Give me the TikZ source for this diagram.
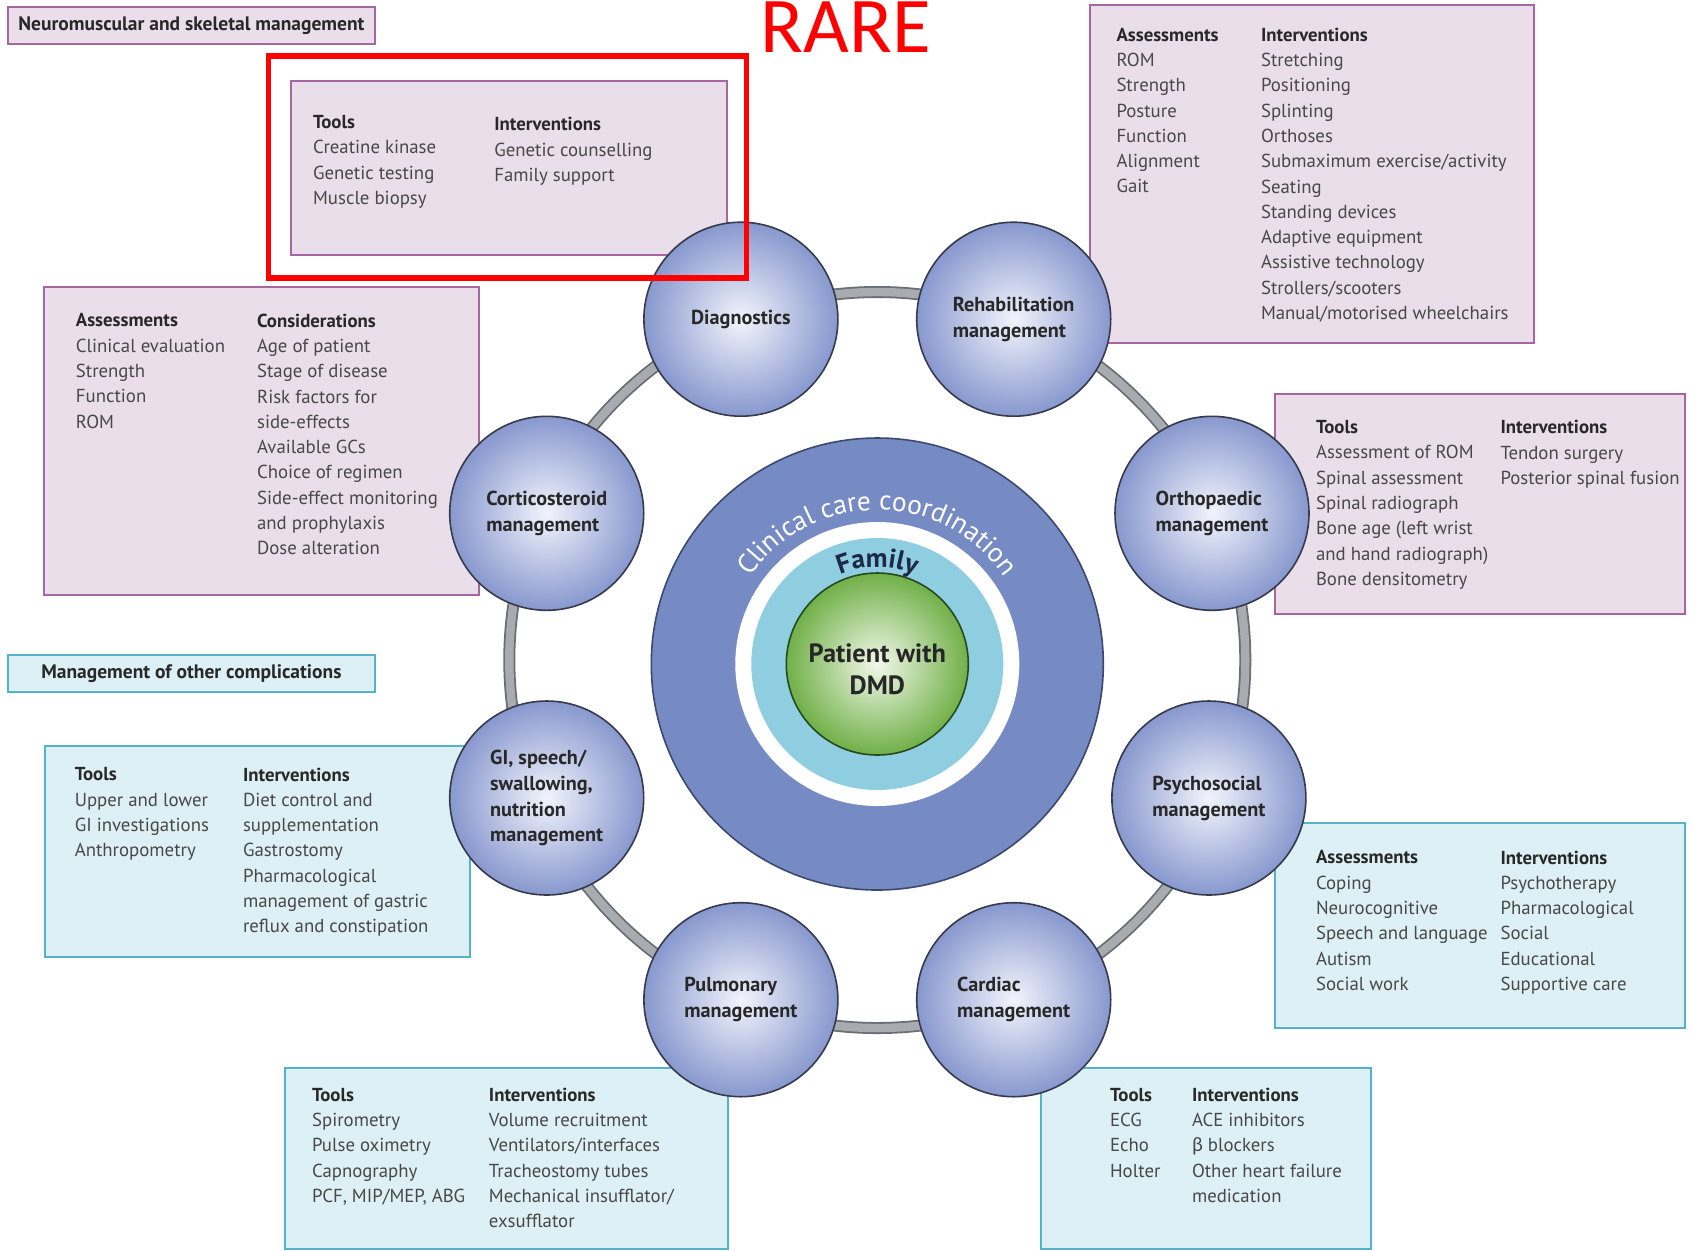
\documentclass[tikz,border=0pt]{standalone}
\usepackage{fontspec}
\setmainfont{PT Sans}
\newfontfamily\rarefont{Carlito}
\newfontfamily\greekfont{Carlito}
\usetikzlibrary{fit,decorations.text}
\definecolor{pinkfill}{RGB}{234,222,234}
\definecolor{pinkline}{RGB}{168,102,160}
\definecolor{cyanfill}{RGB}{221,240,246}
\definecolor{cyanline}{RGB}{86,178,200}
\definecolor{satin}{RGB}{242,244,252}
\definecolor{satout}{RGB}{136,152,206}
\definecolor{satline}{RGB}{55,58,75}
\definecolor{navy}{RGB}{118,139,196}
\definecolor{navyline}{RGB}{60,72,110}
\definecolor{famblue}{RGB}{142,206,224}
\definecolor{grin}{RGB}{242,248,234}
\definecolor{grout}{RGB}{112,176,72}
\definecolor{grline}{RGB}{40,72,30}
\definecolor{bodytext}{RGB}{72,72,72}
\definecolor{headtext}{RGB}{40,40,40}
\definecolor{ringdark}{RGB}{105,110,116}
\definecolor{ringlight}{RGB}{168,172,177}
\definecolor{famtext}{RGB}{28,40,70}
\newcommand{\colhead}[1]{{\bfseries\color{headtext}#1}}
\begin{document}
\begin{tikzpicture}[x=0.5pt,y=-0.5pt,
  pinkbox/.style={draw=pinkline, fill=pinkfill, line width=1pt, inner sep=0},
  cyanbox/.style={draw=cyanline, fill=cyanfill, line width=1pt, inner sep=0},
  col/.style={anchor=north west, inner sep=0, align=left, text=bodytext, font=\fontsize{9.4}{12.65}\selectfont},
  sat/.style={circle, draw=satline, line width=0.8pt, shading=radial, inner color=satin, outer color=satout, minimum size=97pt, inner sep=0, align=left, text=headtext, font=\bfseries\fontsize{10.1}{12.95}\selectfont},
  ttl/.style={text=headtext, font=\bfseries\fontsize{9.75}{11}\selectfont, inner sep=0},
]
\fill[white] (0,0) rectangle (1691,1250);
\useasboundingbox (0,0) rectangle (1691,1250);

\coordinate (ctr) at (877.3,664);
\coordinate (rc) at (877.3,660);

% ring joining the eight management areas
\draw[ringdark, line width=6pt] (rc) circle[radius=368];
\draw[ringlight, line width=4.2pt] (rc) circle[radius=368];

% central circles
\node[circle, fill=navy, draw=navyline, line width=0.8pt, minimum size=226pt, inner sep=0] (coord) at (ctr) {};
\node[circle, fill=white, minimum size=142pt, inner sep=0] (gap) at (ctr) {};
\node[circle, fill=famblue, minimum size=126pt, inner sep=0] (family) at (ctr) {};
\node[circle, draw=grline, line width=0.8pt, shading=radial, inner color=grin, outer color=grout, minimum size=91pt, inner sep=0] (patient) at (ctr) {};
\node[align=center, font=\bfseries\fontsize{13.2}{16.2}\selectfont, text=black!85, inner sep=0, yshift=-2.5pt] (patienttext) at (patient.center) {Patient with\\DMD};

\path[decorate, decoration={text along path, text align=center, text={|\color{white}\fontsize{13.7}{16}\selectfont|Clinical care coordination}}] (ctr) ++(-155:154) arc[start angle=-155, end angle=-25, radius=154];
\path[decorate, decoration={text along path, text align=center, text={|\color{famtext}\bfseries\fontsize{13.5}{16}\selectfont|Family}}] (ctr) ++(-140:97) arc[start angle=-140, end angle=-40, radius=97];

% boxes
\node[pinkbox, fit={(291.2,80.9) (726.8,254.5)}] (diagbox) {};
\node[pinkbox, fit={(1090.3,5.4) (1533.5,342.9)}] (rehabbox) {};
\node[pinkbox, fit={(44.2,286.9) (478.8,595.3)}] (corticobox) {};
\node[pinkbox, fit={(1274.7,393.6) (1684.5,613.6)}] (orthobox) {};
\node[cyanbox, fit={(45.3,746.3) (470.2,956.5)}] (gibox) {};
\node[cyanbox, fit={(1274.7,822.8) (1684.5,1027.7)}] (psychbox) {};
\node[cyanbox, fit={(284.7,1067.6) (727.9,1248.8)}] (pulmbox) {};
\node[cyanbox, fit={(1040.7,1067.6) (1370.6,1248.8)}] (cardiacbox) {};

\node[pinkbox, fit={(7.5,6.5) (375.3,44.2)}] (nmbox) {};
\node[ttl] (nmtext) at (nmbox.center) {Neuromuscular and skeletal management};
\node[cyanbox, fit={(7.5,654.6) (375.3,692.3)}] (mocbox) {};
\node[ttl] (moctext) at (mocbox.center) {Management of other complications};

% box texts
\node[col] (diagtools) at (312.7,114.9) {\colhead{Tools}\\Creatine kinase\\Genetic testing\\Muscle biopsy};
\node[col] (diaginterv) at (493.9,117) {\colhead{Interventions}\\Genetic counselling\\Family support};

\node[col] (rehabass) at (1116.1,27.5) {\colhead{Assessments}\\ROM\\Strength\\Posture\\Function\\Alignment\\Gait};
\node[col] (rehabint) at (1260.6,27.5) {\colhead{Interventions}\\Stretching\\Positioning\\Splinting\\Orthoses\\Submaximum exercise/activity\\Seating\\Standing devices\\Adaptive equipment\\Assistive technology\\Strollers/scooters\\Manual/motorised wheelchairs};

\node[col] (corticoass) at (75.5,313.3) {\colhead{Assessments}\\Clinical evaluation\\Strength\\Function\\ROM};
\node[col] (corticocons) at (256.7,313.3) {\colhead{Considerations}\\Age of patient\\Stage of disease\\Risk factors for\\side-effects\\Available GCs\\Choice of regimen\\Side-effect monitoring\\and prophylaxis\\Dose alteration};

\node[col] (orthotools) at (1315.6,420) {\colhead{Tools}\\Assessment of ROM\\Spinal assessment\\Spinal radiograph\\Bone age (left wrist\\and hand radiograph)\\Bone densitometry};
\node[col] (orthoint) at (1500.1,420) {\colhead{Interventions}\\Tendon surgery\\Posterior spinal fusion};

\node[col] (gitools) at (74.4,767.3) {\colhead{Tools}\\Upper and lower\\GI investigations\\Anthropometry};
\node[col] (giint) at (242.6,767.3) {\colhead{Interventions}\\Diet control and\\supplementation\\Gastrostomy\\Pharmacological\\management of gastric\\reflux and constipation};

\node[col] (psychass) at (1315.6,850.3) {\colhead{Assessments}\\Coping\\Neurocognitive\\Speech and language\\Autism\\Social work};
\node[col] (psychint) at (1500.1,850.3) {\colhead{Interventions}\\Psychotherapy\\Pharmacological\\Social\\Educational\\Supportive care};

\node[col] (pulmtools) at (311.7,1087.6) {\colhead{Tools}\\Spirometry\\Pulse oximetry\\Capnography\\PCF, MIP/MEP, ABG};
\node[col] (pulmint) at (488.5,1087.6) {\colhead{Interventions}\\Volume recruitment\\Ventilators/interfaces\\Tracheostomy tubes\\Mechanical insufflator/\\exsufflator};

\node[col] (cardtools) at (1109.7,1087.6) {\colhead{Tools}\\ECG\\Echo\\Holter};
\node[col] (cardint) at (1191.6,1087.6) {\colhead{Interventions}\\ACE inhibitors\\{\greekfont\fontsize{10.2}{12.65}\selectfont β} blockers\\Other heart failure\\medication};

% satellite circles
\node[sat] (diag) at (740.9,319.2) {Diagnostics};
\node[sat] (rehab) at (1013.7,319.2) {Rehabilitation\\management};
\node[sat] (ortho) at (1212,513.3) {Orthopaedic\\management};
\node[sat] (psych) at (1208.9,798.0) {Psychosocial\\management};
\node[sat] (cardiac) at (1013.7,999.7) {Cardiac\\management};
\node[sat] (pulm) at (740.9,999.7) {Pulmonary\\management};
\node[sat] (gi) at (546.7,798.0) {GI, speech/\\swallowing,\\nutrition\\management};
\node[sat] (cortico) at (546.7,513.3) {Corticosteroid\\management};

% highlight
\node[draw=red, line width=2.75pt, inner sep=0, fit={(268.5,56.1) (746.3,278.2)}] (redframe) {};
\node[anchor=base, text=red, font=\rarefont\fontsize{39.5}{44}\selectfont, inner sep=0, text height=25.4pt, text depth=0pt] (rare) at (846,52) {RARE};
\end{tikzpicture}
\end{document}
